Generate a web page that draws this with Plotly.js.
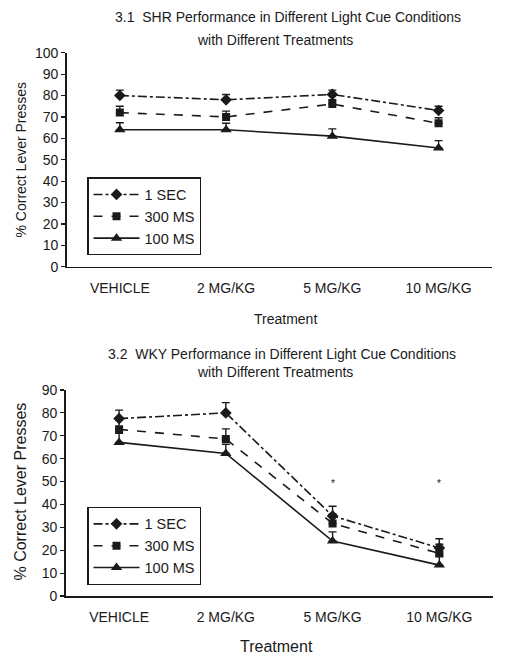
<!DOCTYPE html>
<html>
<head>
<meta charset="utf-8">
<script src="https://cdn.plot.ly/plotly-3.0.1.min.js"></script>
<style>html,body{margin:0;padding:0;background:#fff;}#chart{width:505px;height:662px;}</style>
</head>
<body>
<div id="chart"></div>
<script>
// ---- data ----
const categories = ["VEHICLE", "2 MG/KG", "5 MG/KG", "10 MG/KG"];
const seriesNames = ["1 SEC", "300 MS", "100 MS"];

// 3.1 SHR
const shr1sec = [80, 78, 80.5, 73];
const shr1secErr = [2.5, 2.5, 2, 2];
const shr300ms = [72, 70, 76, 67];
const shr300msErr = [3, 2.7, 2, 2.6];
const shr100ms = [64, 64, 61, 55.5];
const shr100msErr = [3.3, 3, 3.4, 3.4];

// 3.2 WKY
const wky1sec = [77.5, 80, 35, 21];
const wky1secErr = [3.7, 4.5, 4.2, 4];
const wky300ms = [72.8, 68.6, 31.7, 18.6];
const wky300msErr = [4, 4.4, 4, 4];
const wky100ms = [67.1, 62.3, 24, 13.5];
const wky100msErr = [4, 4, 4, 4];

// significance markers (WKY)
const sigCats = ["5 MG/KG", "10 MG/KG"];
const sigLevel = [49, 49];

const titles1 = ["3.1  SHR Performance in Different Light Cue Conditions", "with Different Treatments"];
const titles2 = ["3.2  WKY Performance in Different Light Cue Conditions", "with Different Treatments"];
const xTitle = "Treatment";
const yTitle = "% Correct Lever Presses";

// ---- styling ----
const INK = "#1a1a1a";
const FONT = "Liberation Sans, Arial, sans-serif";
const W = 505, H = 662;
const px = v => v / W;
const py = v => 1 - v / H;

const styles = [
  {dash: "dashdot", symbol: "diamond", size: 9},
  {dash: "dash", symbol: "square", size: 8},
  {dash: "solid", symbol: "triangle-up", size: 10}
];

function mk(y, err, i, xa, ya, leg) {
  return {
    type: "scatter", mode: "lines+markers",
    x: categories, y: y, name: seriesNames[i],
    xaxis: xa, yaxis: ya, legend: leg,
    line: {color: INK, width: 1.6, dash: styles[i].dash},
    marker: {color: INK, symbol: styles[i].symbol, size: styles[i].size},
    error_y: {type: "data", symmetric: false, array: err, arrayminus: err.map(() => 0),
              color: INK, thickness: 1.4, width: 4},
    hoverinfo: "x+y+name"
  };
}

const data = [
  mk(shr1sec, shr1secErr, 0, "x", "y", "legend"),
  mk(shr300ms, shr300msErr, 1, "x", "y", "legend"),
  mk(shr100ms, shr100msErr, 2, "x", "y", "legend"),
  mk(wky1sec, wky1secErr, 0, "x2", "y2", "legend2"),
  mk(wky300ms, wky300msErr, 1, "x2", "y2", "legend2"),
  mk(wky100ms, wky100msErr, 2, "x2", "y2", "legend2")
];

function yax(dom, max, anchor) {
  return {
    domain: dom, range: [0, max], dtick: 10, anchor: anchor,
    showgrid: false, zeroline: false, showline: true,
    linecolor: INK, linewidth: 1.5, ticks: "outside", ticklen: 4,
    tickcolor: INK, tickwidth: 1.2,
    tickfont: {family: FONT, size: 14, color: INK}, fixedrange: true
  };
}
function xax(dom, anchor) {
  return {
    domain: dom, type: "category", categoryarray: categories, range: [-0.5, 3.5],
    anchor: anchor, showgrid: false, zeroline: false, showline: true,
    linecolor: INK, linewidth: 1.5, ticks: "", ticklabelstandoff: 8,
    tickfont: {family: FONT, size: 14, color: INK}, fixedrange: true
  };
}

function legendBox(ytop) {
  return {
    x: px(87.3), y: py(ytop), xanchor: "left", yanchor: "top",
    bgcolor: "#fff", bordercolor: INK, borderwidth: 1.2,
    font: {family: FONT, size: 14.5, color: INK},
    itemwidth: 46, tracegroupgap: 0, traceorder: "normal", itemclick: false, itemdoubleclick: false
  };
}

function ann(text, x, y, size, extra) {
  return Object.assign({
    text: text, x: px(x), y: py(y), xref: "paper", yref: "paper",
    xanchor: "center", yanchor: "middle", showarrow: false,
    font: {family: FONT, size: size, color: INK}
  }, extra || {});
}

const annotations = [
  ann(titles1[0], 288, 17, 14),
  ann(titles1[1], 274.5, 40, 14),
  ann(xTitle, 285, 319, 14),
  ann(yTitle, 21, 159.5, 14, {textangle: -90}),
  ann(titles2[0], 281.7, 353.5, 14),
  ann(titles2[1], 275, 371.5, 14),
  ann(xTitle, 276.7, 646, 16),
  ann(yTitle, 20, 491.5, 16, {textangle: -90})
];
sigCats.forEach((c, i) => {
  annotations.push({
    text: "*", x: c, y: sigLevel[i], xref: "x2", yref: "y2",
    xanchor: "center", yanchor: "middle", showarrow: false,
    font: {family: FONT, size: 10, color: INK}
  });
});

const layout = {
  width: W, height: H,
  margin: {l: 0, r: 0, t: 0, b: 0},
  paper_bgcolor: "#fff", plot_bgcolor: "#fff",
  showlegend: true,
  xaxis: xax([px(66.7), px(491.7)], "y"),
  yaxis: yax([py(266.7), py(52.7)], 100, "x"),
  xaxis2: xax([px(65.7), px(492.7)], "y2"),
  yaxis2: yax([py(596), py(390)], 90, "x2"),
  legend: legendBox(177.3),
  legend2: legendBox(506.7),
  annotations: annotations
};

Plotly.newPlot("chart", data, layout, {displayModeBar: false, staticPlot: true});
</script>
</body>
</html>
